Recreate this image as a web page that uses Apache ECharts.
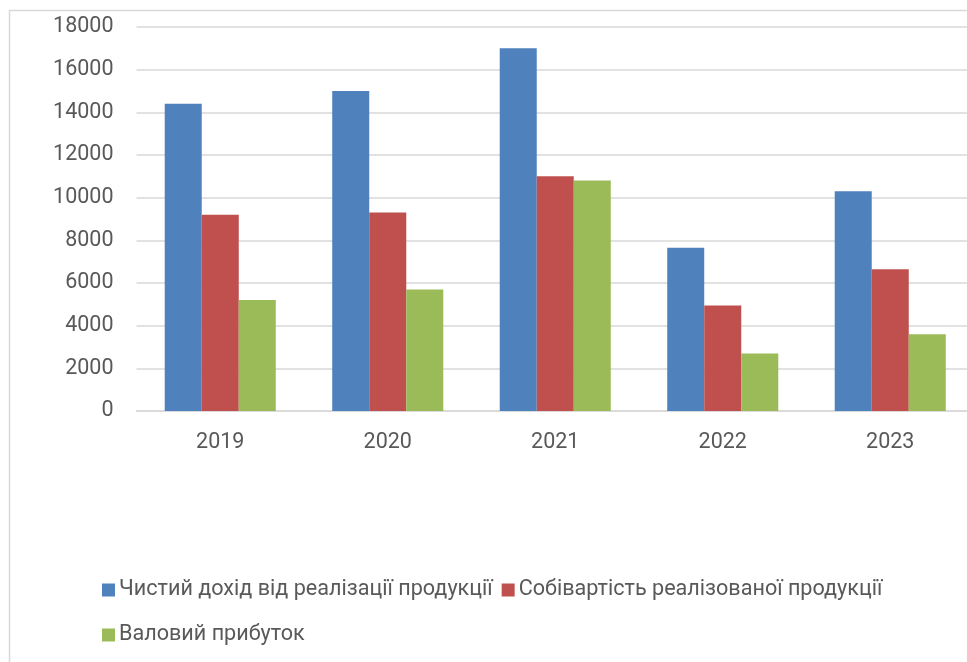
<!DOCTYPE html>
<html>
<head>
<meta charset="utf-8">
<script src="https://cdn.jsdelivr.net/npm/echarts@6/dist/echarts.min.js"></script>
<style>
  html, body { margin: 0; padding: 0; background: #ffffff; overflow: hidden; }
  #chart { width: 990px; height: 662px; }
</style>
</head>
<body>
<div id="chart"></div>
<script>
// Фінансові показники підприємства за роками
const years = ['2019', '2020', '2021', '2022', '2023'];
const netIncome = [14400, 15000, 17000, 7650, 10300];     // Чистий дохід від реалізації продукції
const costOfSales = [9200, 9300, 11000, 4950, 6650];      // Собівартість реалізованої продукції
const grossProfit = [5200, 5700, 10800, 2700, 3600];      // Валовий прибуток
const yTicks = [0, 2000, 4000, 6000, 8000, 10000, 12000, 14000, 16000, 18000];

const seriesNames = [
  'Чистий дохід від реалізації продукції',
  'Собівартість реалізованої продукції',
  'Валовий прибуток'
];
const colors = ['#4f81bd', '#c0504d', '#9bbb59'];
const fontFamily = 'Roboto, "Open Sans", sans-serif';
const textColor = '#595959';

const chart = echarts.init(document.getElementById('chart'), null, { renderer: 'canvas' });

const legendBase = {
  orient: 'horizontal',
  left: 97,
  itemWidth: 13,
  itemHeight: 13,
  itemGap: 9,
  icon: 'rect',
  selectedMode: false,
  textStyle: { fontFamily: fontFamily, fontSize: 21.6, color: textColor, padding: [0, 0, 0, -1] }
};

chart.setOption({
  animation: false,
  color: colors,
  graphic: [{
    type: 'rect',
    shape: { x: 9.5, y: 10.5, width: 1000, height: 700 },
    style: { fill: 'none', stroke: '#d9d9d9', lineWidth: 1.5 },
    silent: true,
    z: -1
  }],
  legend: [
    Object.assign({}, legendBase, { top: 574, data: [seriesNames[0], seriesNames[1]] }),
    Object.assign({}, legendBase, { top: 619, data: [seriesNames[2]] })
  ],
  grid: { left: 136.5, top: 27, width: 837.5, height: 384, containLabel: false },
  xAxis: {
    type: 'category',
    data: years,
    axisLine: { show: true, lineStyle: { color: '#d9d9d9', width: 1.5 } },
    axisTick: { show: false },
    axisLabel: { fontFamily: fontFamily, fontSize: 21.5, color: textColor, margin: 21 }
  },
  yAxis: {
    type: 'value',
    min: yTicks[0],
    max: yTicks[yTicks.length - 1],
    interval: yTicks[1] - yTicks[0],
    axisLine: { show: false },
    axisTick: { show: false },
    splitLine: { lineStyle: { color: '#d9d9d9', width: 1.5 } },
    axisLabel: {
      fontFamily: fontFamily, fontSize: 21.5, color: textColor, margin: 23,
      formatter: function (v) { return String(v); }
    }
  },
  series: [
    { name: seriesNames[0], type: 'bar', data: netIncome, barGap: '0%', barCategoryGap: '33.7%' },
    { name: seriesNames[1], type: 'bar', data: costOfSales, barGap: '0%', barCategoryGap: '33.7%' },
    { name: seriesNames[2], type: 'bar', data: grossProfit, barGap: '0%', barCategoryGap: '33.7%' }
  ]
});
</script>
</body>
</html>
